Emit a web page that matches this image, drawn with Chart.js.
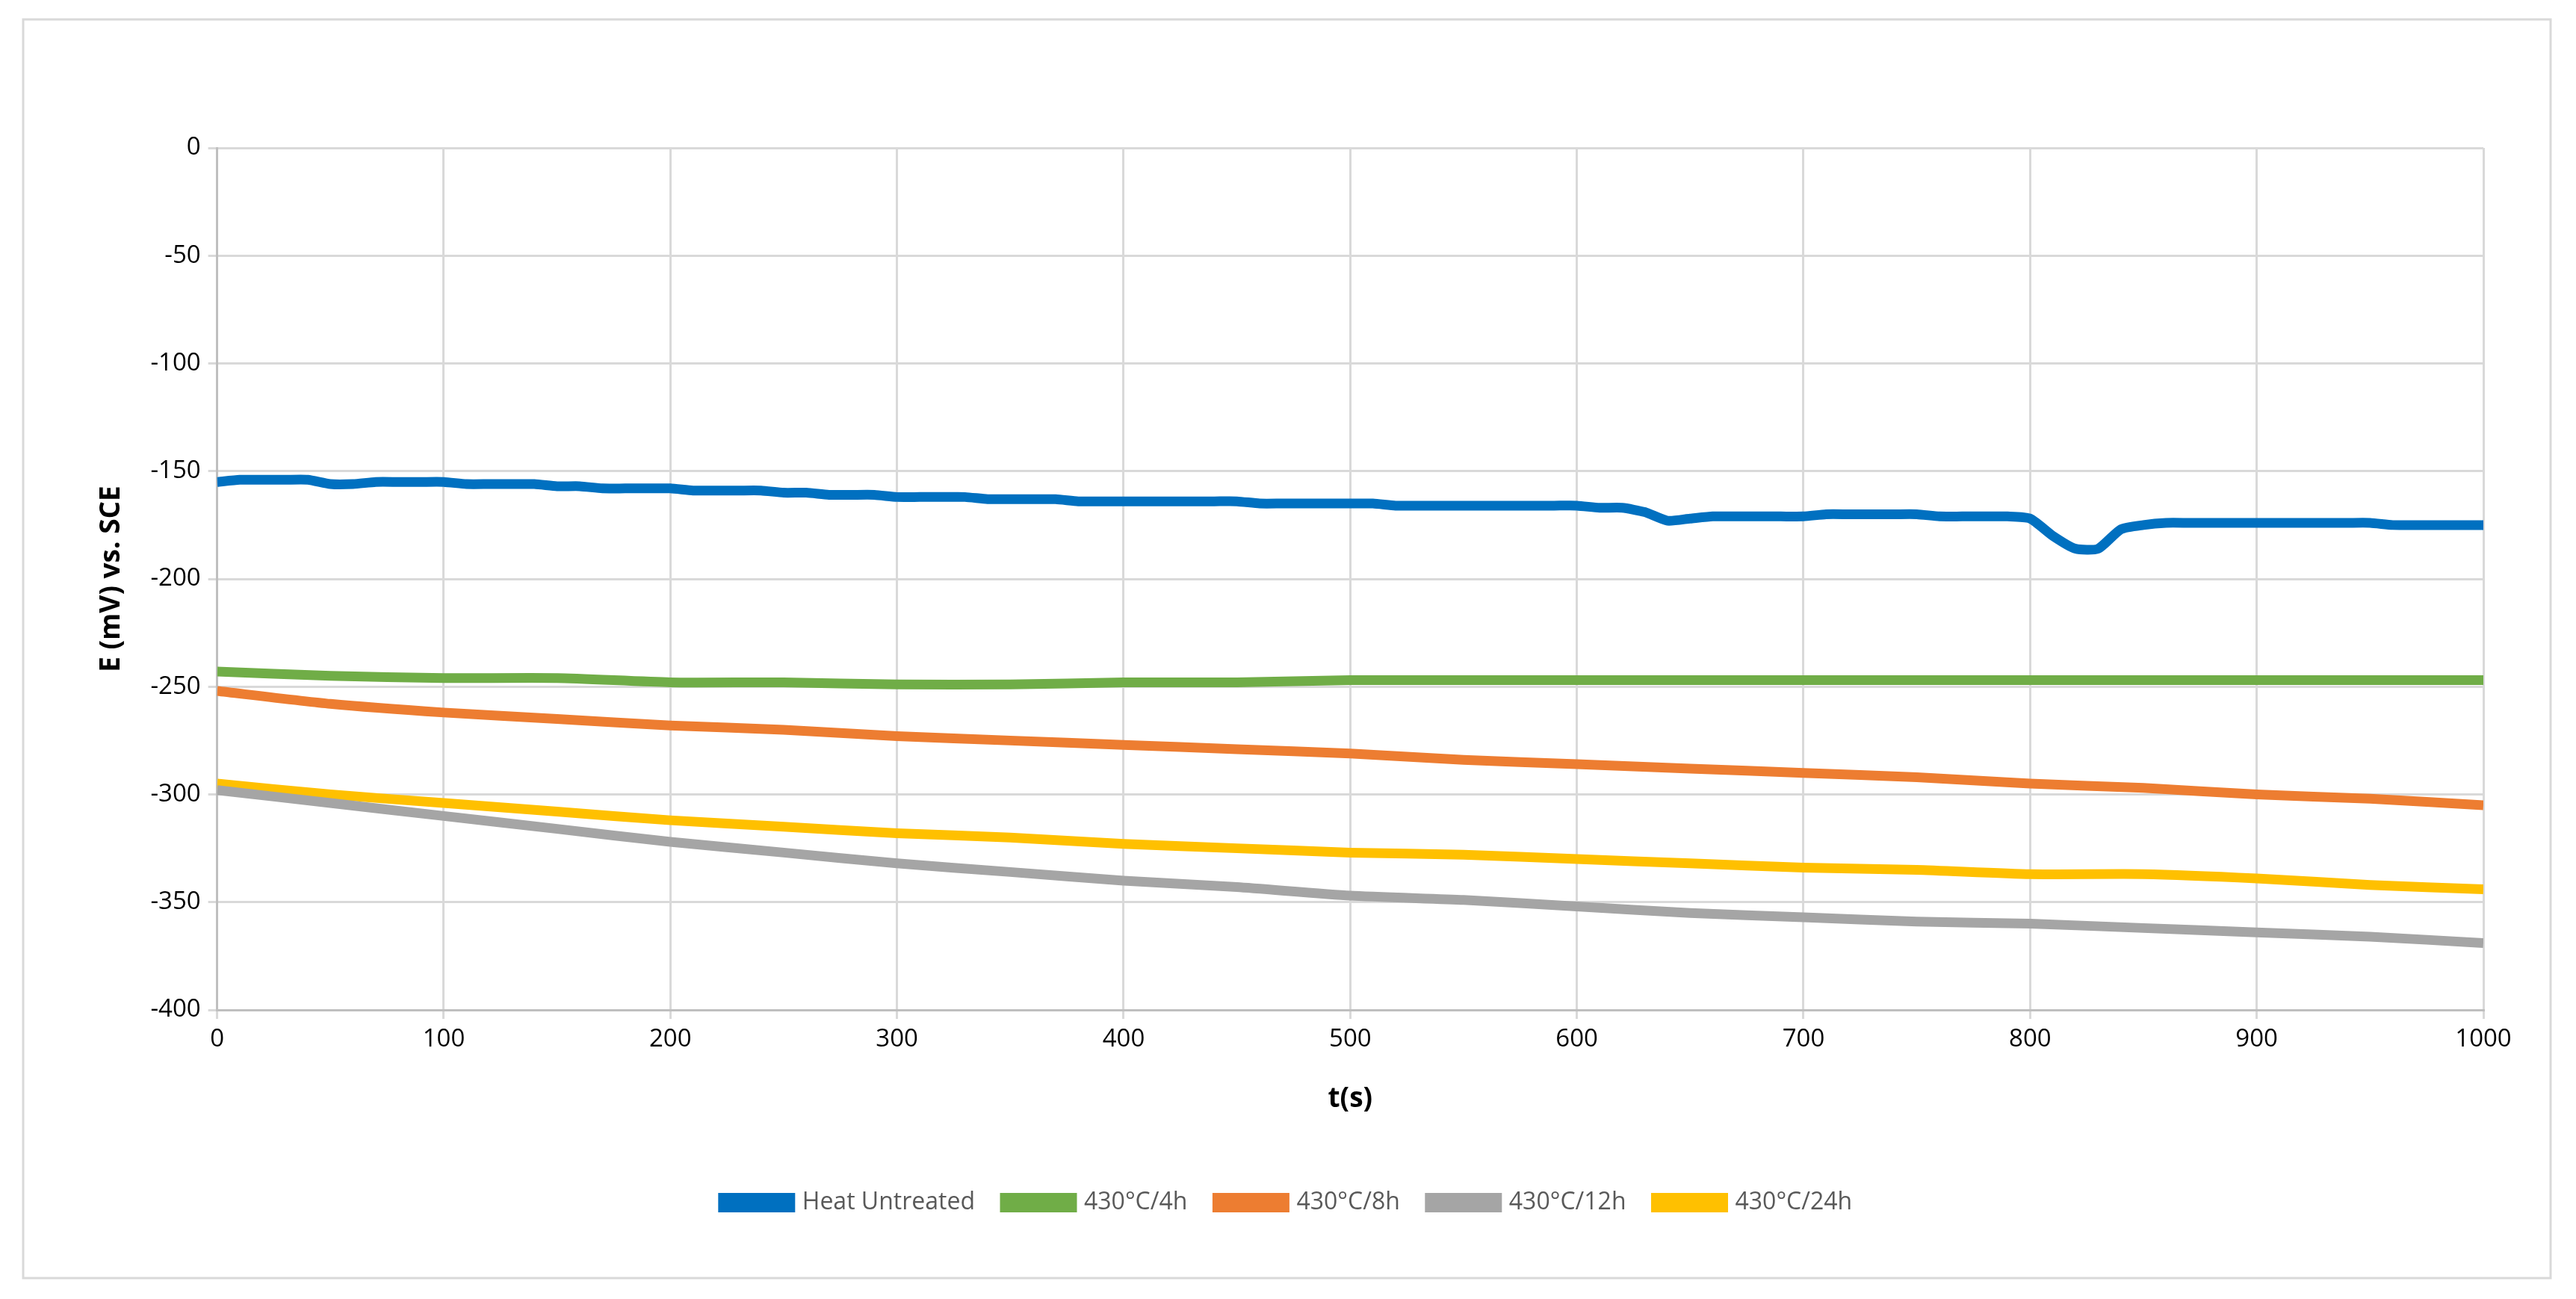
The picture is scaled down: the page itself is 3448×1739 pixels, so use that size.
<!DOCTYPE html>
<html><head><meta charset="utf-8">
<script src="https://cdn.jsdelivr.net/npm/chart.js@4"></script>
<style>html,body{margin:0;padding:0;background:#fff}#w{width:3448px;height:1739px}</style>
</head><body><div id="w"><canvas id="c"></canvas></div>
<script>
const tBlue=[];for(let i=0;i<=100;i++)tBlue.push(i*10);
const heatUntreated=[-155,-154,-154,-154,-154,-156,-156,-155,-155,-155,-155,-156,-156,-156,-156,-157,-157,-158,-158,-158,-158,-159,-159,-159,-159,-160,-160,-161,-161,-161,-162,-162,-162,-162,-163,-163,-163,-163,-164,-164,-164,-164,-164,-164,-164,-164,-165,-165,-165,-165,-165,-165,-166,-166,-166,-166,-166,-166,-166,-166,-166,-167,-167,-169,-173,-172,-171,-171,-171,-171,-171,-170,-170,-170,-170,-170,-171,-171,-171,-171,-172,-180,-186,-186,-177,-175,-174,-174,-174,-174,-174,-174,-174,-174,-174,-174,-175,-175,-175,-175,-175];
const t50=[0,50,100,150,200,250,300,350,400,450,500,550,600,650,700,750,800,850,900,950,1000];
const s4h=[-243,-245,-246,-246,-248,-248,-249,-249,-248,-248,-247,-247,-247,-247,-247,-247,-247,-247,-247,-247,-247];
const s8h=[-252,-258,-262,-265,-268,-270,-273,-275,-277,-279,-281,-284,-286,-288,-290,-292,-295,-297,-300,-302,-305];
const s12h=[-298,-304,-310,-316,-322,-327,-332,-336,-340,-343,-347,-349,-352,-355,-357,-359,-360,-362,-364,-366,-369];
const s24h=[-295,-300,-304,-308,-312,-315,-318,-320,-323,-325,-327,-328,-330,-332,-334,-335,-337,-337,-339,-342,-344];
const xy=(xs,ys)=>xs.map((x,i)=>({x,y:ys[i]}));
const ds=(label,xs,ys,c)=>({label,data:xy(xs,ys),borderColor:c,backgroundColor:c,borderWidth:13,pointRadius:0,tension:0.2,fill:false});
const frame={id:'frame',beforeDraw(ch){const g=ch.ctx;g.save();g.fillStyle='#fff';g.fillRect(0,0,ch.width,ch.height);g.strokeStyle='#d9d9d9';g.lineWidth=3;g.strokeRect(31,26,3383,1685);g.restore();}};
new Chart(document.getElementById('c'),{type:'line',
data:{datasets:[ds('Heat Untreated',tBlue,heatUntreated,'#0070C0'),ds('430°C/4h',t50,s4h,'#70AD47'),ds('430°C/8h',t50,s8h,'#ED7D31'),ds('430°C/12h',t50,s12h,'#A5A5A5'),ds('430°C/24h',t50,s24h,'#FFC000')]},
options:{responsive:true,maintainAspectRatio:false,animation:false,
layout:{padding:{left:123,right:124,top:198,bottom:103}},
plugins:{legend:{position:'bottom',labels:{boxWidth:90,boxHeight:13,padding:40,color:'#595959',font:{family:'Open Sans',size:32}}},tooltip:{enabled:false}},
scales:{
x:{type:'linear',min:0,max:1000,ticks:{stepSize:100,callback:v=>String(v),color:'#000',font:{family:'Open Sans',size:33},padding:8},grid:{color:'#d9d9d9',lineWidth:3,tickLength:12},border:{color:'#bfbfbf',width:3},
title:{display:true,text:'t(s)',color:'#000',font:{family:'Open Sans',size:37,weight:'bold'},padding:{top:30,bottom:60}}},
y:{min:-400,max:0,ticks:{stepSize:50,callback:v=>String(v),color:'#000',font:{family:'Open Sans',size:33},padding:10},grid:{color:'#d9d9d9',lineWidth:3,tickLength:12},border:{color:'#bfbfbf',width:3},
title:{display:true,text:'E (mV) vs. SCE',color:'#000',font:{family:'Open Sans',size:37,weight:'bold'},padding:{bottom:20}}}}},
plugins:[frame]});
</script></body></html>
